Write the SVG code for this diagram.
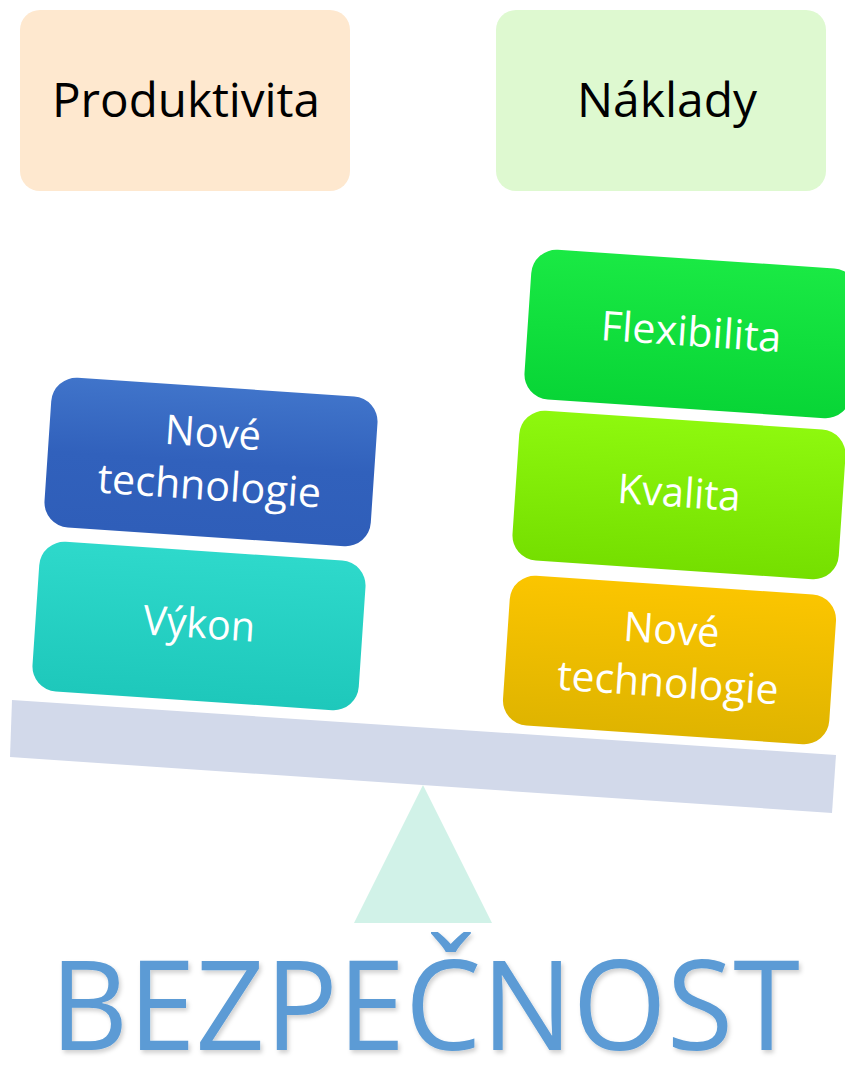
<svg xmlns="http://www.w3.org/2000/svg" width="845" height="1066" viewBox="0 0 845 1066">
<style>
.lbl{font-family:"Open Sans","Noto Sans","Liberation Sans",sans-serif;fill:#ffffff;font-size:41px;text-anchor:middle}
.top{font-family:"Open Sans","Noto Sans","Liberation Sans",sans-serif;fill:#000000;font-size:48px;text-anchor:middle}
.big{font-family:"Open Sans","Noto Sans","Liberation Sans",sans-serif;fill:#5b9bd5;font-size:125px;text-anchor:middle}
</style>
<defs>
<linearGradient id="gBlue" x1="0" y1="0" x2="0" y2="1"><stop offset="0" stop-color="#4074ca"/><stop offset="0.5" stop-color="#3161bc"/><stop offset="1" stop-color="#2f5eb9"/></linearGradient>
<linearGradient id="gTeal" x1="0" y1="0" x2="0" y2="1"><stop offset="0" stop-color="#2ed9cb"/><stop offset="1" stop-color="#1ec8bb"/></linearGradient>
<linearGradient id="gFlex" x1="0" y1="0" x2="0" y2="1"><stop offset="0" stop-color="#1ae944"/><stop offset="1" stop-color="#08d536"/></linearGradient>
<linearGradient id="gKval" x1="0" y1="0" x2="0" y2="1"><stop offset="0" stop-color="#8ef80e"/><stop offset="1" stop-color="#75df00"/></linearGradient>
<linearGradient id="gOrng" x1="0" y1="0" x2="0" y2="1"><stop offset="0" stop-color="#fbc500"/><stop offset="1" stop-color="#dfb400"/></linearGradient>
<filter id="sh" x="-5%" y="-10%" width="110%" height="130%"><feDropShadow dx="2" dy="3" stdDeviation="2" flood-color="#000000" flood-opacity="0.18"/></filter>
</defs>

<g id="produktivita">
<rect x="20" y="10" width="330" height="181" rx="20" fill="#fee8cf"/>
<text class="top" x="186" y="117" textLength="268" lengthAdjust="spacingAndGlyphs">Produktivita</text>
</g>
<g id="naklady">
<rect x="496" y="10" width="330" height="181" rx="20" fill="#def9d0"/>
<text class="top" x="667" y="117" textLength="180" lengthAdjust="spacingAndGlyphs">Náklady</text>
</g>

<g id="beam">
<polygon points="12,700 836,755 832,813 10,757" fill="#d2d9ea"/>
</g>
<g id="fulcrum">
<polygon points="423,785 492,923 354,923" fill="#d1f2e8"/>
</g>

<g id="vykon" transform="translate(199,626) rotate(3.85)">
<rect x="-163.5" y="-75" width="327" height="150" rx="25" fill="url(#gTeal)"/>
<text class="lbl" x="0" y="12" textLength="112" lengthAdjust="spacingAndGlyphs">Výkon</text>
</g>
<g id="nove-tech-left" transform="translate(211,462) rotate(3.85)">
<rect x="-163.5" y="-75" width="327" height="150" rx="25" fill="url(#gBlue)"/>
<text class="lbl" x="0" y="-15" textLength="96" lengthAdjust="spacingAndGlyphs">Nové</text>
<text class="lbl" x="0" y="38" textLength="224" lengthAdjust="spacingAndGlyphs">technologie</text>
</g>

<g id="nove-tech-right" transform="translate(669.5,660) rotate(3.85)">
<rect x="-163.5" y="-75" width="327" height="150" rx="25" fill="url(#gOrng)"/>
<text class="lbl" x="0" y="-16" textLength="96" lengthAdjust="spacingAndGlyphs">Nové</text>
<text class="lbl" x="0" y="37" textLength="222" lengthAdjust="spacingAndGlyphs">technologie</text>
</g>
<g id="kvalita" transform="translate(679,495) rotate(3.85)">
<rect x="-163.5" y="-75" width="327" height="150" rx="25" fill="url(#gKval)"/>
<text class="lbl" x="0" y="12" textLength="123" lengthAdjust="spacingAndGlyphs">Kvalita</text>
</g>
<g id="flexibilita" transform="translate(691,334) rotate(3.85)">
<rect x="-163.5" y="-75" width="327" height="150" rx="25" fill="url(#gFlex)"/>
<text class="lbl" x="0" y="12" textLength="181" lengthAdjust="spacingAndGlyphs">Flexibilita</text>
</g>

<g id="bezpecnost" filter="url(#sh)">
<text class="big" x="425" y="1050" textLength="750" lengthAdjust="spacingAndGlyphs">BEZPEČNOST</text>
</g>
<g id="connectors"/>
</svg>
